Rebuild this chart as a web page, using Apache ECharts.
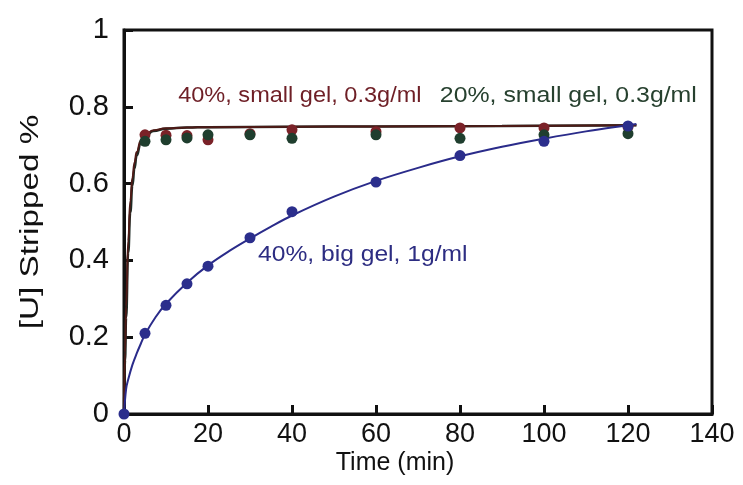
<!DOCTYPE html>
<html>
<head>
<meta charset="utf-8">
<script src="https://cdn.jsdelivr.net/npm/echarts@6/dist/echarts.min.js"></script>
<style>
  html, body { margin: 0; padding: 0; background: #fff; }
  #chart { width: 743px; height: 485px; }
</style>
</head>
<body>
<div id="chart"></div>
<script>
// Sampling times (min) and measured fractions of uranium stripped
const bigGelTimes = [0, 5, 10, 15, 20, 30, 40, 60, 80, 100, 120];
const bigGel40 = [0, 0.21, 0.283, 0.339, 0.385, 0.459, 0.527, 0.604, 0.673, 0.71, 0.75];

const smallGelTimes = [5, 10, 15, 20, 30, 40, 60, 80, 100, 120];
const smallGel40 = [0.727, 0.726, 0.725, 0.714, 0.73, 0.74, 0.735, 0.745, 0.745, 0.748];
const smallGel20 = [0.71, 0.714, 0.719, 0.727, 0.727, 0.718, 0.727, 0.718, 0.727, 0.73];

// Fitted kinetic curves
const bigFitTimes = [0, 0.5, 1, 2, 3, 4, 5, 7.5, 10, 15, 20, 25, 30, 35, 40, 50, 60, 70, 80, 90, 100, 110, 120, 122];
const bigGel40Fit = [0, 0.065, 0.09, 0.128, 0.157, 0.183, 0.207, 0.252, 0.287, 0.342, 0.387, 0.424, 0.457, 0.488, 0.517, 0.566, 0.607, 0.641, 0.671, 0.696, 0.717, 0.736, 0.752, 0.755];

const smallFitTimes = [0, 0.25, 0.5, 1, 1.5, 2, 2.5, 3, 4, 5, 7, 10, 15, 20, 40, 60, 90, 122];
const smallGel40Fit = [0, 0.16, 0.28, 0.45, 0.555, 0.615, 0.655, 0.682, 0.712, 0.727, 0.739, 0.744, 0.746, 0.747, 0.748, 0.749, 0.75, 0.752];
const smallGel20Fit = [0, 0.14, 0.25, 0.42, 0.525, 0.595, 0.64, 0.672, 0.706, 0.723, 0.737, 0.743, 0.746, 0.747, 0.748, 0.749, 0.75, 0.752];

// Axis tick labels and titles
const xTickLabels = ['0', '20', '40', '60', '80', '100', '120', '140'];
const yTickLabels = ['0', '0.2', '0.4', '0.6', '0.8', '1'];
const xTitle = 'Time (min)';
const yTitle = '[U] Stripped %';

// Curve annotations: text, anchor [time, fraction] (left edge, vertical middle)
const annotations = [
  { text: '40%, small gel, 0.3g/ml', at: [12.9, 0.829], color: '#6e1f26', stretch: 1.07 },
  { text: '20%, small gel, 0.3g/ml', at: [75.2, 0.829], color: '#27412f', stretch: 1.13 },
  { text: '40%, big gel, 1g/ml', at: [31.9, 0.413], color: '#2d2d82', stretch: 1.12 }
];

const zip = (xs, ys) => xs.map((x, i) => [x, ys[i]]);
const FONT = '"Liberation Sans", Arial, Helvetica, sans-serif';
const INK = '#111';

const chart = echarts.init(document.getElementById('chart'), null, { renderer: 'canvas' });

const option = {
  animation: false,
  backgroundColor: '#fff',
  grid: {
    left: 124, right: 31, top: 30, bottom: 71,
    show: true, borderColor: INK, borderWidth: 3, backgroundColor: 'transparent'
  },
  xAxis: {
    type: 'value', min: 0, max: 140, interval: 20,
    axisLine: { show: true, lineStyle: { color: INK, width: 3 } },
    axisTick: { show: true, inside: true, length: 9, lineStyle: { color: INK, width: 3 } },
    axisLabel: {
      fontFamily: FONT, fontSize: 27, color: INK, margin: 7,
      formatter: v => xTickLabels[Math.round(v / 20)]
    },
    splitLine: { show: false }
  },
  yAxis: {
    type: 'value', min: 0, max: 1, interval: 0.2,
    axisLine: { show: true, lineStyle: { color: INK, width: 3 } },
    axisTick: { show: true, inside: true, length: 9, lineStyle: { color: INK, width: 3 } },
    axisLabel: {
      fontFamily: FONT, fontSize: 29, color: INK, margin: 15,
      formatter: v => yTickLabels[Math.round(v / 0.2)]
    },
    splitLine: { show: false }
  },
  series: [
    {
      name: '20% small gel fit', type: 'line', data: zip(smallFitTimes, smallGel20Fit),
      showSymbol: false, smooth: 0.5, smoothMonotone: 'x',
      lineStyle: { color: '#1f2b25', width: 2.5 }, z: 2
    },
    {
      name: '40% small gel fit', type: 'line', data: zip(smallFitTimes, smallGel40Fit),
      showSymbol: false, smooth: 0.5, smoothMonotone: 'x',
      lineStyle: { color: '#4e1a16', width: 2 }, z: 2
    },
    {
      name: '40% big gel fit', type: 'line', data: zip(bigFitTimes, bigGel40Fit),
      showSymbol: false, smooth: 0.35,
      lineStyle: { color: '#2a2b8a', width: 2 }, z: 2
    },
    {
      name: '40% small gel', type: 'scatter', data: zip(smallGelTimes, smallGel40),
      symbolSize: 11, itemStyle: { color: '#7a2228', opacity: 1 }, z: 3
    },
    {
      name: '20% small gel', type: 'scatter', data: zip(smallGelTimes, smallGel20),
      symbolSize: 11, itemStyle: { color: '#1f3e2e', opacity: 1 }, z: 4
    },
    {
      name: '40% big gel', type: 'scatter', data: zip(bigGelTimes, bigGel40),
      symbolSize: 11, itemStyle: { color: '#2b2e8c', opacity: 1 }, z: 5
    }
  ]
};

chart.setOption(option);

// Axis titles and curve annotations, positioned through the grid's scales
const grid = chart.getModel().getComponent('grid', 0).coordinateSystem.getRect();
const textItems = annotations.map(a => {
  const p = chart.convertToPixel({ gridIndex: 0 }, a.at);
  return {
    type: 'text', x: p[0], y: p[1], z: 10, scaleX: a.stretch,
    style: {
      text: a.text, fill: a.color, fontFamily: FONT, fontSize: 22,
      textAlign: 'left', textVerticalAlign: 'middle'
    }
  };
});
textItems.push({
  type: 'text', x: grid.x + grid.width / 2 - 23, y: grid.y + grid.height + 49, z: 10,
  style: {
    text: xTitle, fill: INK, fontFamily: FONT, fontSize: 25,
    textAlign: 'center', textVerticalAlign: 'middle'
  }
});
textItems.push({
  type: 'text', x: 31, y: grid.y + 192, z: 10, rotation: Math.PI / 2, scaleX: 1.28,
  style: {
    text: yTitle, fill: INK, fontFamily: FONT, fontSize: 26,
    textAlign: 'center', textVerticalAlign: 'middle'
  }
});
chart.setOption({ graphic: textItems });
</script>
</body>
</html>
